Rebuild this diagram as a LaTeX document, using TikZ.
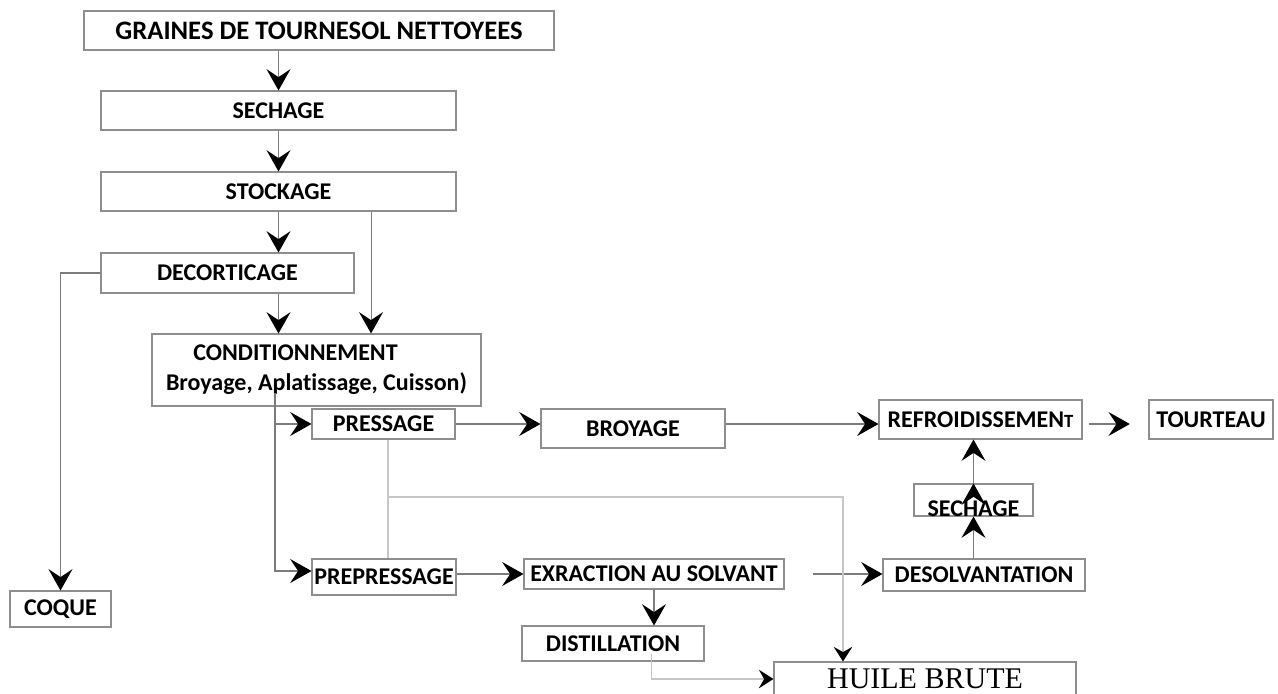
\documentclass[tikz,border=0pt]{standalone}
\usepackage{fontspec}
\setmainfont{Carlito}[Ligatures={NoCommon,NoContextual}]
\newfontfamily\huilefont{Liberation Serif}
\usetikzlibrary{arrows.meta}
\definecolor{boxgray}{HTML}{8E8E8E}
\definecolor{linegray}{HTML}{7C7C7C}
\definecolor{palegray}{HTML}{C6C6C6}

\begin{document}
\begin{tikzpicture}[x=0.75pt,y=-0.75pt,
  box/.style 2 args={draw=boxgray, line width=0.8pt, minimum width=#1*0.75pt, minimum height=#2*0.75pt, inner sep=0pt, font=\bfseries\fontsize{18}{21}\selectfont},
  link/.style={draw=linegray, line width=0.8pt, -{Stealth[length=16pt,width=18pt,inset=6pt,color=black,fill=black]}},
  pale link/.style={draw=palegray, line width=0.8pt},
  small tip/.style={-{Stealth[length=11pt,width=14pt,inset=4pt,color=black,fill=black]}}]
  \path[use as bounding box, fill=white] (0,0) rectangle (1278,693);

  \node[box={470}{39}, font=\bfseries\fontsize{20}{22}\selectfont] (graines) at (319,30.5) {GRAINES DE TOURNESOL NETTOYEES};
  \node[box={355}{39}] (sech1) at (278.5,110.5) {SECHAGE};
  \node[box={355}{39}] (stock) at (278.5,191.5) {STOCKAGE};
  \node[box={253}{40}] (decort) at (227.5,273) {DECORTICAGE};
  \node[box={329}{72}, align=left] (cond) at (316.5,370) {\hspace*{20.5pt}CONDITIONNEMENT\\[1.5pt]Broyage, Aplatissage, Cuisson)};
  \node[box={143}{30}] (press) at (383.5,424) {PRESSAGE};
  \node[box={184}{39}] (broy) at (633,428.5) {BROYAGE};
  \node[box={203}{39}] (refroid) at (980.5,419.5) {REFROIDISSEMEN{\fontsize{14}{14}\selectfont T}};
  \node[box={124}{39}] (tourt) at (1211,419.5) {TOURTEAU};
  \node[box={119}{30}, text height=24pt, text depth=-1.5pt] (sech2) at (973.5,500) {SECHAGE};
  \node[box={202}{32}] (desolv) at (984,575) {DESOLVANTATION};
  \node[box={260}{30}] (extr) at (654,574) {EXRACTION AU SOLVANT};
  \node[box={144}{36}] (prepress) at (384,577) {PREPRESSAGE};
  \node[box={182}{35}] (distil) at (613,643.5) {DISTILLATION};
  \node[box={101}{36}] (coque) at (60.5,609) {COQUE};
  \node[box={302}{34}, font=\huilefont\fontsize{22.5}{24}\selectfont] (huile) at (925,679) {HUILE BRUTE};

  \coordinate (split) at (275,393);
  \coordinate (junc) at (388,497);
  \coordinate (drop) at (843,497);

  \path[link] (sech1.north |- graines.south) edge (sech1.north)
        (sech1) edge (stock)
        (stock.south) edge (stock.south |- decort.north)
        ([xshift=69.4pt]stock.south) edge ([xshift=69.4pt]stock.south |- cond.north)
        (stock.south |- decort.south) edge (stock.south |- cond.north)
        (press.east) edge (press.east -| broy.west)
        (broy.east |- press.east) edge (refroid.west |- press.east)
        (refroid.east |- press.east) edge[shorten <=4.5pt, shorten >=14pt] (tourt.west |- press.east)
        (prepress.east |- extr.west) edge (extr.west)
        (extr.south) edge (extr.south |- distil.north)
        (extr.east) edge[shorten <=21pt] (extr.east -| desolv.west)
        (desolv.north -| sech2.north) edge (sech2.south)
        (sech2.north) edge (sech2.north |- refroid.south);

  \draw[link] (decort.west) -| (coque.north);
  \draw[link] (split) |- (press.west);
  \draw[link] (split) |- ([yshift=4.5pt]prepress.west);

  \draw[pale link] (junc |- press.south) -- (junc |- prepress.north);
  \draw[pale link, small tip] (junc) -- (drop) -- (drop |- huile.north);
  \draw[pale link, small tip] ([xshift=29pt,yshift=6pt]distil.south) |- (huile.west);
\end{tikzpicture}
\end{document}
